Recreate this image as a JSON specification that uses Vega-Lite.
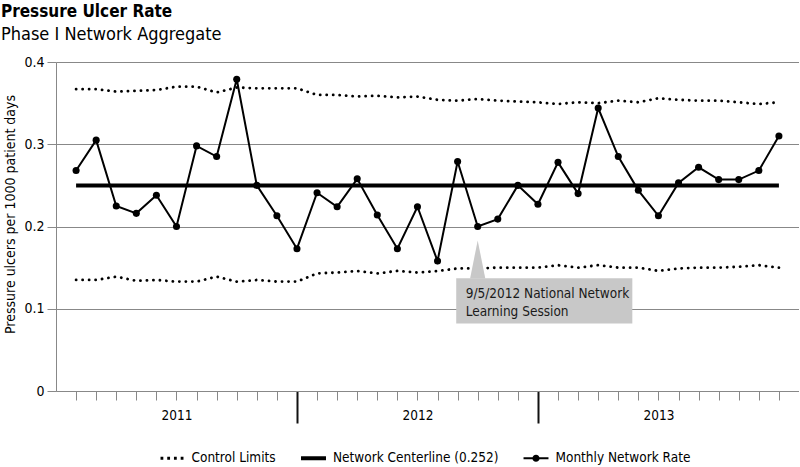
{
  "$schema": "https://vega.github.io/schema/vega-lite/v6.json",
  "width": 743,
  "height": 329,
  "padding": {"left": 0, "top": 3, "right": 0, "bottom": 0},
  "background": "white",
  "title": {
    "text": "Pressure Ulcer Rate",
    "subtitle": "Phase I Network Aggregate",
    "anchor": "start",
    "frame": "bounds",
    "dx": -3,
    "font": "'Liberation Sans Narrow', 'DejaVu Sans Condensed', 'Liberation Sans', sans-serif",
    "fontSize": 17,
    "fontWeight": "bold",
    "color": "black",
    "subtitleFont": "'Liberation Sans Narrow', 'DejaVu Sans Condensed', 'Liberation Sans', sans-serif",
    "subtitleFontSize": 18,
    "subtitleColor": "black",
    "subtitlePadding": 5,
    "offset": 10
  },
  "config": {
    "view": {"stroke": null},
    "font": "'Liberation Sans Narrow', 'DejaVu Sans Condensed', 'Liberation Sans', sans-serif",
    "axis": {"labelFont": "'Liberation Sans Narrow', 'DejaVu Sans Condensed', 'Liberation Sans', sans-serif", "titleFont": "'Liberation Sans Narrow', 'DejaVu Sans Condensed', 'Liberation Sans', sans-serif", "labelColor": "black", "titleColor": "black"},
    "legend": {"labelFont": "'Liberation Sans Narrow', 'DejaVu Sans Condensed', 'Liberation Sans', sans-serif", "layout": {"bottom": {"anchor": "middle"}}}
  },
  "datasets": {
    "monthly": [
      {"month": 1, "year": 2011, "rate": 0.268, "ucl": 0.367, "lcl": 0.135},
      {"month": 2, "year": 2011, "rate": 0.305, "ucl": 0.367, "lcl": 0.135},
      {"month": 3, "year": 2011, "rate": 0.225, "ucl": 0.364, "lcl": 0.139},
      {"month": 4, "year": 2011, "rate": 0.216, "ucl": 0.365, "lcl": 0.134},
      {"month": 5, "year": 2011, "rate": 0.238, "ucl": 0.366, "lcl": 0.135},
      {"month": 6, "year": 2011, "rate": 0.200, "ucl": 0.370, "lcl": 0.133},
      {"month": 7, "year": 2011, "rate": 0.298, "ucl": 0.370, "lcl": 0.133},
      {"month": 8, "year": 2011, "rate": 0.285, "ucl": 0.363, "lcl": 0.139},
      {"month": 9, "year": 2011, "rate": 0.379, "ucl": 0.369, "lcl": 0.133},
      {"month": 10, "year": 2011, "rate": 0.250, "ucl": 0.368, "lcl": 0.135},
      {"month": 11, "year": 2011, "rate": 0.213, "ucl": 0.368, "lcl": 0.133},
      {"month": 12, "year": 2011, "rate": 0.173, "ucl": 0.368, "lcl": 0.133},
      {"month": 13, "year": 2012, "rate": 0.241, "ucl": 0.360, "lcl": 0.143},
      {"month": 14, "year": 2012, "rate": 0.224, "ucl": 0.360, "lcl": 0.144},
      {"month": 15, "year": 2012, "rate": 0.258, "ucl": 0.358, "lcl": 0.146},
      {"month": 16, "year": 2012, "rate": 0.214, "ucl": 0.359, "lcl": 0.143},
      {"month": 17, "year": 2012, "rate": 0.173, "ucl": 0.357, "lcl": 0.146},
      {"month": 18, "year": 2012, "rate": 0.224, "ucl": 0.358, "lcl": 0.144},
      {"month": 19, "year": 2012, "rate": 0.158, "ucl": 0.354, "lcl": 0.146},
      {"month": 20, "year": 2012, "rate": 0.279, "ucl": 0.353, "lcl": 0.149},
      {"month": 21, "year": 2012, "rate": 0.200, "ucl": 0.355, "lcl": 0.149},
      {"month": 22, "year": 2012, "rate": 0.209, "ucl": 0.353, "lcl": 0.150},
      {"month": 23, "year": 2012, "rate": 0.250, "ucl": 0.352, "lcl": 0.150},
      {"month": 24, "year": 2012, "rate": 0.227, "ucl": 0.351, "lcl": 0.150},
      {"month": 25, "year": 2013, "rate": 0.278, "ucl": 0.349, "lcl": 0.153},
      {"month": 26, "year": 2013, "rate": 0.240, "ucl": 0.351, "lcl": 0.150},
      {"month": 27, "year": 2013, "rate": 0.344, "ucl": 0.350, "lcl": 0.153},
      {"month": 28, "year": 2013, "rate": 0.285, "ucl": 0.353, "lcl": 0.150},
      {"month": 29, "year": 2013, "rate": 0.244, "ucl": 0.351, "lcl": 0.150},
      {"month": 30, "year": 2013, "rate": 0.213, "ucl": 0.356, "lcl": 0.146},
      {"month": 31, "year": 2013, "rate": 0.253, "ucl": 0.354, "lcl": 0.149},
      {"month": 32, "year": 2013, "rate": 0.272, "ucl": 0.353, "lcl": 0.150},
      {"month": 33, "year": 2013, "rate": 0.257, "ucl": 0.353, "lcl": 0.150},
      {"month": 34, "year": 2013, "rate": 0.257, "ucl": 0.351, "lcl": 0.151},
      {"month": 35, "year": 2013, "rate": 0.268, "ucl": 0.349, "lcl": 0.153},
      {"month": 36, "year": 2013, "rate": 0.310, "ucl": 0.351, "lcl": 0.150}
    ],
    "centerline": [{"first_month": 1, "last_month": 36, "center": 0.25}],
    "annotation": [
      {"month": 21, "pointer_y": 0.160, "box_start": 19.93, "box_end": 28.7, "box_top": 0.137, "box_bottom": 0.082, "text_month": 20.4, "text_y": 0.127, "label": "9/5/2012 National Network\nLearning Session"}
    ],
    "legend": [
      {"series": "Control Limits"},
      {"series": "Network Centerline (0.252)"},
      {"series": "Monthly Network Rate"}
    ]
  },
  "encoding": {
    "x": {
      "field": "month",
      "type": "quantitative",
      "scale": {"domain": [0, 37], "nice": false, "zero": false},
      "axis": {
        "title": null,
        "values": [1,2,3,4,5,6,7,8,9,10,11,12,13,14,15,16,17,18,19,20,21,22,23,24,25,26,27,28,29,30,31,32,33,34,35,36],
        "labelExpr": "datum.value == 6 ? '2011' : datum.value == 18 ? '2012' : datum.value == 30 ? '2013' : ''",
        "labelOverlap": false,
        "labelFlush": false,
        "labelFontSize": 13.5,
        "labelPadding": 8,
        "grid": false,
        "domainColor": "#888888",
        "domainWidth": 1,
        "tickSize": {"condition": {"test": "datum.value == 12 || datum.value == 24", "value": 32}, "value": 9},
        "tickWidth": {"condition": {"test": "datum.value == 12 || datum.value == 24", "value": 2}, "value": 1},
        "tickColor": {"condition": {"test": "datum.value == 12 || datum.value == 24", "value": "#111111"}, "value": "#888888"}
      }
    }
  },
  "layer": [
    {
      "data": {"name": "monthly"},
      "transform": [{"fold": ["ucl", "lcl"], "as": ["limit", "limit_value"]}],
      "mark": {"type": "line", "color": "black", "strokeWidth": 2.8, "strokeCap": "round", "strokeDash": [0.1, 6.4]},
      "encoding": {
        "y": {
          "field": "limit_value",
          "type": "quantitative",
          "scale": {"domain": [0, 0.4], "nice": false},
          "axis": {
            "title": "Pressure ulcers per 1000 patient days",
            "titleFontSize": 14,
            "titleFontWeight": "normal",
            "titlePadding": 6,
            "titleY": 152,
            "values": [0, 0.1, 0.2, 0.3, 0.4],
            "labelExpr": "datum.value == 0 ? '0' : format(datum.value, '.1f')",
            "labelFontSize": 14,
            "labelPadding": 3,
            "tickSize": 9,
            "tickColor": "#888888",
            "domainColor": "#888888",
            "gridColor": "#888888",
            "gridWidth": 1,
            "grid": true
          }
        },
        "detail": {"field": "limit"}
      }
    },
    {
      "data": {"name": "centerline"},
      "mark": {"type": "rule", "color": "black", "strokeWidth": 4},
      "encoding": {
        "x": {"field": "first_month", "type": "quantitative"},
        "x2": {"field": "last_month"},
        "y": {"field": "center", "type": "quantitative"}
      }
    },
    {
      "data": {"name": "monthly"},
      "mark": {"type": "line", "color": "black", "strokeWidth": 2, "point": {"filled": true, "size": 50, "color": "black"}},
      "encoding": {
        "y": {"field": "rate", "type": "quantitative"}
      }
    },
    {
      "data": {"name": "annotation"},
      "mark": {"type": "rect", "color": "#c8c8c8"},
      "encoding": {
        "x": {"field": "box_start", "type": "quantitative"},
        "x2": {"field": "box_end"},
        "y": {"field": "box_top", "type": "quantitative"},
        "y2": {"field": "box_bottom"}
      }
    },
    {
      "data": {"name": "annotation"},
      "mark": {"type": "point", "filled": true, "color": "#c8c8c8", "opacity": 1, "size": 1444, "shape": "M0,-1L0.4,1L-0.4,1Z"},
      "encoding": {
        "x": {"field": "month", "type": "quantitative"},
        "y": {"field": "pointer_y", "type": "quantitative"}
      }
    },
    {
      "data": {"name": "annotation"},
      "mark": {"type": "text", "align": "left", "baseline": "top", "lineBreak": "\n", "lineHeight": 18, "fontSize": 13.5, "font": "'Liberation Sans Narrow', 'DejaVu Sans Condensed', 'Liberation Sans', sans-serif", "color": "#1a1a1a"},
      "encoding": {
        "x": {"field": "text_month", "type": "quantitative"},
        "y": {"field": "text_y", "type": "quantitative"},
        "text": {"field": "label"}
      }
    },
    {
      "data": {"name": "legend"},
      "transform": [{"filter": "datum.series == null"}],
      "mark": {"type": "point", "filled": true, "color": "black"},
      "encoding": {
        "shape": {
          "field": "series",
          "type": "nominal",
          "scale": {
            "domain": ["Control Limits", "Network Centerline (0.252)", "Monthly Network Rate"],
            "range": [
              "M-1.435,-0.175h0.35v0.35h-0.35Z M-0.595,-0.175h0.35v0.35h-0.35Z M0.245,-0.175h0.35v0.35h-0.35Z M1.085,-0.175h0.35v0.35h-0.35Z",
              "M-1.56,-0.25H1.56V0.25H-1.56Z",
              "M-1.56,-0.125H1.56V0.125H-1.56Z M-0.45,0A0.45,0.45 0 1,1 0.45,0A0.45,0.45 0 1,1 -0.45,0Z"
            ]
          },
          "legend": {
            "title": null,
            "orient": "bottom",
            "direction": "horizontal",
            "symbolSize": 256,
            "symbolFillColor": "black",
            "symbolStrokeWidth": 0,
            "symbolOpacity": 1,
            "labelFontSize": 13.5,
            "labelColor": "black",
            "labelLimit": 400,
            "labelOffset": 11.5,
            "columnPadding": 24.5,
            "offset": 5
          }
        }
      }
    }
  ]
}
